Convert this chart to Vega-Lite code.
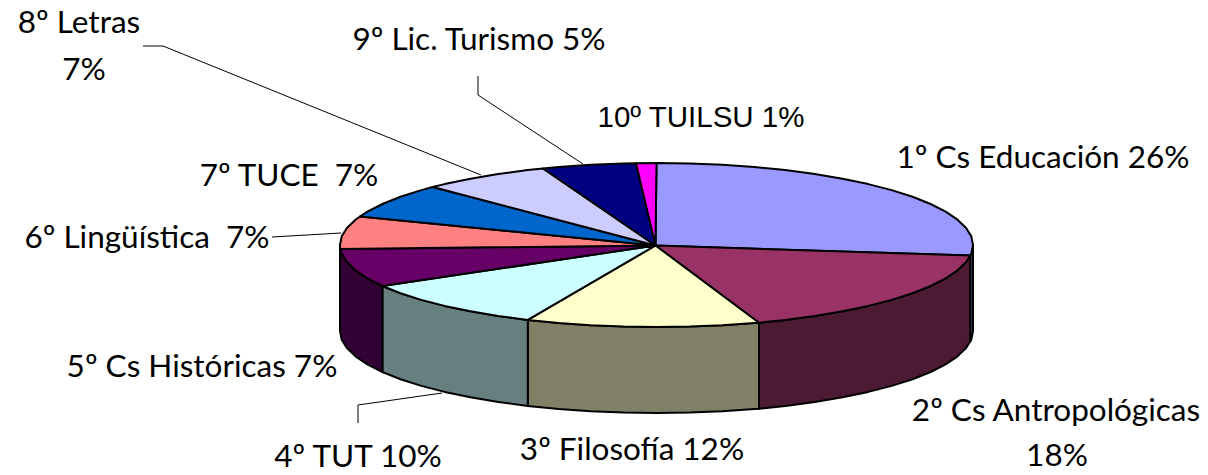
{"$schema":"https://vega.github.io/schema/vega-lite/v6.json","width":1208,"height":475,"autosize":{"type":"fit","contains":"padding"},"padding":0,"background":"#ffffff","view":{"stroke":null},
"datasets":{
"side":[
{"part":"s1","seq":0,"x":973,"y":245},{"part":"s1","seq":1,"x":971.3,"y":253.6},{"part":"s1","seq":2,"x":970.2,"y":255.5},{"part":"s1","seq":3,"x":970.2,"y":341.5},{"part":"s1","seq":4,"x":971.3,"y":339.6},{"part":"s1","seq":5,"x":973,"y":331},{"part":"s1","seq":6,"x":973,"y":245},
{"part":"s2","seq":0,"x":970.2,"y":255.5},{"part":"s2","seq":1,"x":966.1,"y":262},{"part":"s2","seq":2,"x":957.5,"y":270.3},{"part":"s2","seq":3,"x":945.6,"y":278.3},{"part":"s2","seq":4,"x":930.6,"y":286},{"part":"s2","seq":5,"x":912.5,"y":293.2},{"part":"s2","seq":6,"x":891.7,"y":299.9},{"part":"s2","seq":7,"x":868.3,"y":305.9},{"part":"s2","seq":8,"x":842.5,"y":311.3},{"part":"s2","seq":9,"x":814.8,"y":316},{"part":"s2","seq":10,"x":785.2,"y":319.9},{"part":"s2","seq":11,"x":759,"y":322.7},{"part":"s2","seq":12,"x":759,"y":408.7},{"part":"s2","seq":13,"x":785.2,"y":405.9},{"part":"s2","seq":14,"x":814.8,"y":402},{"part":"s2","seq":15,"x":842.5,"y":397.3},{"part":"s2","seq":16,"x":868.3,"y":391.9},{"part":"s2","seq":17,"x":891.7,"y":385.9},{"part":"s2","seq":18,"x":912.5,"y":379.2},{"part":"s2","seq":19,"x":930.6,"y":372},{"part":"s2","seq":20,"x":945.6,"y":364.3},{"part":"s2","seq":21,"x":957.5,"y":356.3},{"part":"s2","seq":22,"x":966.1,"y":348},{"part":"s2","seq":23,"x":970.2,"y":341.5},{"part":"s2","seq":24,"x":970.2,"y":255.5},
{"part":"s3","seq":0,"x":759,"y":322.7},{"part":"s3","seq":1,"x":754.3,"y":323},{"part":"s3","seq":2,"x":722.3,"y":325.2},{"part":"s3","seq":3,"x":689.6,"y":326.5},{"part":"s3","seq":4,"x":656.5,"y":327},{"part":"s3","seq":5,"x":623.4,"y":326.5},{"part":"s3","seq":6,"x":590.7,"y":325.2},{"part":"s3","seq":7,"x":558.7,"y":323},{"part":"s3","seq":8,"x":527.8,"y":319.9},{"part":"s3","seq":9,"x":527.8,"y":405.9},{"part":"s3","seq":10,"x":558.7,"y":409},{"part":"s3","seq":11,"x":590.7,"y":411.2},{"part":"s3","seq":12,"x":623.4,"y":412.5},{"part":"s3","seq":13,"x":656.5,"y":413},{"part":"s3","seq":14,"x":689.6,"y":412.5},{"part":"s3","seq":15,"x":722.3,"y":411.2},{"part":"s3","seq":16,"x":754.3,"y":409},{"part":"s3","seq":17,"x":759,"y":408.7},{"part":"s3","seq":18,"x":759,"y":322.7},
{"part":"s4","seq":0,"x":527.8,"y":319.9},{"part":"s4","seq":1,"x":498.2,"y":316},{"part":"s4","seq":2,"x":470.5,"y":311.3},{"part":"s4","seq":3,"x":444.7,"y":305.9},{"part":"s4","seq":4,"x":421.3,"y":299.9},{"part":"s4","seq":5,"x":400.5,"y":293.2},{"part":"s4","seq":6,"x":382.4,"y":286},{"part":"s4","seq":7,"x":382.4,"y":372},{"part":"s4","seq":8,"x":400.5,"y":379.2},{"part":"s4","seq":9,"x":421.3,"y":385.9},{"part":"s4","seq":10,"x":444.7,"y":391.9},{"part":"s4","seq":11,"x":470.5,"y":397.3},{"part":"s4","seq":12,"x":498.2,"y":402},{"part":"s4","seq":13,"x":527.8,"y":405.9},{"part":"s4","seq":14,"x":527.8,"y":319.9},
{"part":"s5","seq":0,"x":382.4,"y":286},{"part":"s5","seq":1,"x":367.4,"y":278.3},{"part":"s5","seq":2,"x":355.5,"y":270.3},{"part":"s5","seq":3,"x":346.9,"y":262},{"part":"s5","seq":4,"x":341.7,"y":253.6},{"part":"s5","seq":5,"x":340,"y":245},{"part":"s5","seq":6,"x":340,"y":331},{"part":"s5","seq":7,"x":341.7,"y":339.6},{"part":"s5","seq":8,"x":346.9,"y":348},{"part":"s5","seq":9,"x":355.5,"y":356.3},{"part":"s5","seq":10,"x":367.4,"y":364.3},{"part":"s5","seq":11,"x":382.4,"y":372},{"part":"s5","seq":12,"x":382.4,"y":286}
],
"top":[
{"part":"t1","seq":0,"x":655.5,"y":245.5},{"part":"t1","seq":1,"x":656.5,"y":163},{"part":"t1","seq":2,"x":689.6,"y":163.5},{"part":"t1","seq":3,"x":722.3,"y":164.8},{"part":"t1","seq":4,"x":754.3,"y":167},{"part":"t1","seq":5,"x":785.2,"y":170.1},{"part":"t1","seq":6,"x":814.8,"y":174},{"part":"t1","seq":7,"x":842.5,"y":178.7},{"part":"t1","seq":8,"x":868.3,"y":184.1},{"part":"t1","seq":9,"x":891.7,"y":190.1},{"part":"t1","seq":10,"x":912.5,"y":196.8},{"part":"t1","seq":11,"x":930.6,"y":204},{"part":"t1","seq":12,"x":945.6,"y":211.7},{"part":"t1","seq":13,"x":957.5,"y":219.7},{"part":"t1","seq":14,"x":966.1,"y":228},{"part":"t1","seq":15,"x":971.3,"y":236.4},{"part":"t1","seq":16,"x":973,"y":245},{"part":"t1","seq":17,"x":971.3,"y":253.6},{"part":"t1","seq":18,"x":970.2,"y":255.5},{"part":"t1","seq":19,"x":655.5,"y":245.5},
{"part":"t2","seq":0,"x":655.5,"y":245.5},{"part":"t2","seq":1,"x":970.2,"y":255.5},{"part":"t2","seq":2,"x":966.1,"y":262},{"part":"t2","seq":3,"x":957.5,"y":270.3},{"part":"t2","seq":4,"x":945.6,"y":278.3},{"part":"t2","seq":5,"x":930.6,"y":286},{"part":"t2","seq":6,"x":912.5,"y":293.2},{"part":"t2","seq":7,"x":891.7,"y":299.9},{"part":"t2","seq":8,"x":868.3,"y":305.9},{"part":"t2","seq":9,"x":842.5,"y":311.3},{"part":"t2","seq":10,"x":814.8,"y":316},{"part":"t2","seq":11,"x":785.2,"y":319.9},{"part":"t2","seq":12,"x":759,"y":322.7},{"part":"t2","seq":13,"x":655.5,"y":245.5},
{"part":"t3","seq":0,"x":655.5,"y":245.5},{"part":"t3","seq":1,"x":759,"y":322.7},{"part":"t3","seq":2,"x":754.3,"y":323},{"part":"t3","seq":3,"x":722.3,"y":325.2},{"part":"t3","seq":4,"x":689.6,"y":326.5},{"part":"t3","seq":5,"x":656.5,"y":327},{"part":"t3","seq":6,"x":623.4,"y":326.5},{"part":"t3","seq":7,"x":590.7,"y":325.2},{"part":"t3","seq":8,"x":558.7,"y":323},{"part":"t3","seq":9,"x":527.8,"y":319.9},{"part":"t3","seq":10,"x":655.5,"y":245.5},
{"part":"t4","seq":0,"x":655.5,"y":245.5},{"part":"t4","seq":1,"x":527.8,"y":319.9},{"part":"t4","seq":2,"x":498.2,"y":316},{"part":"t4","seq":3,"x":470.5,"y":311.3},{"part":"t4","seq":4,"x":444.7,"y":305.9},{"part":"t4","seq":5,"x":421.3,"y":299.9},{"part":"t4","seq":6,"x":400.5,"y":293.2},{"part":"t4","seq":7,"x":382.4,"y":286},{"part":"t4","seq":8,"x":655.5,"y":245.5},
{"part":"t5","seq":0,"x":655.5,"y":245.5},{"part":"t5","seq":1,"x":382.4,"y":286},{"part":"t5","seq":2,"x":367.4,"y":278.3},{"part":"t5","seq":3,"x":355.5,"y":270.3},{"part":"t5","seq":4,"x":346.9,"y":262},{"part":"t5","seq":5,"x":341.7,"y":253.6},{"part":"t5","seq":6,"x":340.2,"y":249},{"part":"t5","seq":7,"x":655.5,"y":245.5},
{"part":"t6","seq":0,"x":655.5,"y":245.5},{"part":"t6","seq":1,"x":340.2,"y":249},{"part":"t6","seq":2,"x":340,"y":245},{"part":"t6","seq":3,"x":341.7,"y":236.4},{"part":"t6","seq":4,"x":346.9,"y":228},{"part":"t6","seq":5,"x":355.5,"y":219.7},{"part":"t6","seq":6,"x":360,"y":216.5},{"part":"t6","seq":7,"x":655.5,"y":245.5},
{"part":"t7","seq":0,"x":655.5,"y":245.5},{"part":"t7","seq":1,"x":360,"y":216.5},{"part":"t7","seq":2,"x":367.4,"y":211.7},{"part":"t7","seq":3,"x":382.4,"y":204},{"part":"t7","seq":4,"x":400.5,"y":196.8},{"part":"t7","seq":5,"x":421.3,"y":190.1},{"part":"t7","seq":6,"x":432.7,"y":187},{"part":"t7","seq":7,"x":655.5,"y":245.5},
{"part":"t8","seq":0,"x":655.5,"y":245.5},{"part":"t8","seq":1,"x":432.7,"y":187},{"part":"t8","seq":2,"x":444.7,"y":184.1},{"part":"t8","seq":3,"x":470.5,"y":178.7},{"part":"t8","seq":4,"x":498.2,"y":174},{"part":"t8","seq":5,"x":527.8,"y":170.1},{"part":"t8","seq":6,"x":543,"y":168.5},{"part":"t8","seq":7,"x":655.5,"y":245.5},
{"part":"t9","seq":0,"x":655.5,"y":245.5},{"part":"t9","seq":1,"x":543,"y":168.5},{"part":"t9","seq":2,"x":558.7,"y":167},{"part":"t9","seq":3,"x":590.7,"y":164.8},{"part":"t9","seq":4,"x":623.4,"y":163.5},{"part":"t9","seq":5,"x":636,"y":163.3},{"part":"t9","seq":6,"x":655.5,"y":245.5},
{"part":"t10","seq":0,"x":655.5,"y":245.5},{"part":"t10","seq":1,"x":636,"y":163.3},{"part":"t10","seq":2,"x":656.5,"y":163},{"part":"t10","seq":3,"x":655.5,"y":245.5}
],
"leaders":[
{"leader":"l8","seq":0,"x":143,"y":46},{"leader":"l8","seq":1,"x":163,"y":46},{"leader":"l8","seq":2,"x":481,"y":175},
{"leader":"l9","seq":0,"x":478,"y":76},{"leader":"l9","seq":1,"x":478,"y":95},{"leader":"l9","seq":2,"x":583,"y":164},
{"leader":"l6","seq":0,"x":272,"y":237},{"leader":"l6","seq":1,"x":341,"y":233},
{"leader":"l4","seq":0,"x":358,"y":423},{"leader":"l4","seq":1,"x":358,"y":405},{"leader":"l4","seq":2,"x":442,"y":393}
],
"labels":[
{"label":"8º Letras","x":79,"y":24,"family":"comic"},{"label":"7%","x":84,"y":71,"family":"comic"},
{"label":"9º Lic. Turismo 5%","x":479,"y":41,"family":"comic"},
{"label":"10º TUILSU 1%","x":701,"y":118,"family":"plain"},
{"label":"1º Cs Educación 26%","x":1043,"y":159,"family":"comic"},
{"label":"7º TUCE\u00a0 7%","x":289,"y":177,"family":"comic"},
{"label":"6º Lingüística\u00a0 7%","x":147,"y":239,"family":"comic"},
{"label":"5º Cs Históricas 7%","x":202,"y":368,"family":"comic"},
{"label":"4º TUT 10%","x":358,"y":458,"family":"comic"},
{"label":"3º Filosofía 12%","x":632,"y":451,"family":"comic"},
{"label":"2º Cs Antropológicas","x":1056,"y":412,"family":"comic"},{"label":"18%","x":1057,"y":457,"family":"comic"}
]},
"encoding":{
"x":{"field":"x","type":"quantitative","scale":{"domain":[0,1208],"nice":false,"zero":false},"axis":null},
"y":{"field":"y","type":"quantitative","scale":{"domain":[475,0],"nice":false,"zero":false},"axis":null}},
"resolve":{"scale":{"fill":"independent"}},
"layer":[
{"data":{"name":"leaders"},"mark":{"type":"line","stroke":"#000000","strokeWidth":1},"encoding":{"detail":{"field":"leader"},"order":{"field":"seq","type":"quantitative"}}},
{"data":{"name":"side"},"mark":{"type":"line","stroke":"#000000","strokeWidth":2,"strokeJoin":"round"},"encoding":{"order":{"field":"seq","type":"quantitative"},"fill":{"field":"part","type":"nominal","legend":null,"scale":{"domain":["s1","s2","s3","s4","s5"],"range":["#4d4d80","#4d1a33","#808066","#668080","#330033"]}}}},
{"data":{"name":"top"},"mark":{"type":"line","stroke":"#000000","strokeWidth":2,"strokeJoin":"round"},"encoding":{"order":{"field":"seq","type":"quantitative"},"fill":{"field":"part","type":"nominal","legend":null,"scale":{"domain":["t1","t2","t3","t4","t5","t6","t7","t8","t9","t10"],"range":["#9999ff","#993366","#ffffcc","#ccffff","#660066","#ff8080","#0066cc","#ccccff","#000080","#ff00ff"]}}}},
{"data":{"name":"labels"},"transform":[{"filter":"datum.family==='comic'"}],"mark":{"type":"text","font":"Lato","fontSize":31.5,"fill":"#000000","align":"center","baseline":"middle"},"encoding":{"text":{"field":"label"}}},
{"data":{"name":"labels"},"transform":[{"filter":"datum.family==='plain'"}],"mark":{"type":"text","font":"Liberation Sans","fontSize":29.5,"fill":"#000000","align":"center","baseline":"middle"},"encoding":{"text":{"field":"label"}}}
]}
